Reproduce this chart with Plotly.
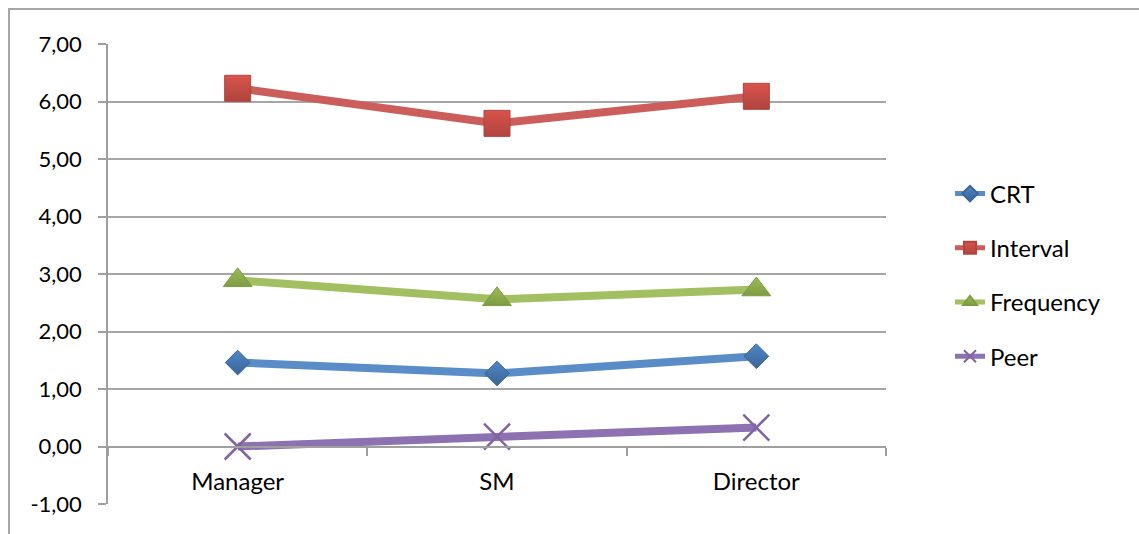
import plotly.graph_objects as go

# Survey scores by management level
categories = ["Manager", "SM", "Director"]
crt = [1.46, 1.27, 1.57]
interval = [6.23, 5.62, 6.09]
frequency = [2.89, 2.56, 2.73]
peer = [0.00, 0.17, 0.33]

y_ticks = [-1, 0, 1, 2, 3, 4, 5, 6, 7]
y_tick_text = [f"{v:.2f}".replace(".", ",") for v in y_ticks]

series = [
    ("CRT", crt, "#5A8DC8", "#4F86C6", "#3A6598", "diamond", 19),
    ("Interval", interval, "#CB5E5A", "#D9534C", "#B0443F", "square", 26),
    ("Frequency", frequency, "#A2C061", "#9BBB59", "#7E9C42", "triangle-up", 25),
    ("Peer", peer, "#8D72B1", "#8064A2", "#8064A2", "x-thin", 26),
]

fig = go.Figure()
for name, vals, line_col, mark_col, edge_col, sym, size in series:
    marker = dict(symbol=sym, size=size, color=mark_col,
                  line=dict(color=edge_col, width=1))
    if sym == "x-thin":
        marker["line"] = dict(color=mark_col, width=2.5)
    else:
        marker["gradient"] = dict(type="vertical", color=edge_col)
    fig.add_trace(go.Scatter(
        x=categories, y=vals, name=name, mode="lines+markers",
        line=dict(color=line_col, width=8),
        marker=marker, legendgroup=name,
    ))

L, R, T, B = 108, 886, 44, 504
W, H = 1139, 534
pw, ph = R - L, B - T

def px_x(x):
    return (x - L) / pw

def px_y(y):
    return (B - y) / ph

# outer chart frame
fig.add_shape(type="rect", xref="paper", yref="paper",
              x0=px_x(9), x1=px_x(1160), y0=px_y(9), y1=px_y(560),
              line=dict(color="#A6A6A6", width=2), layer="below")

family = "Lato, Carlito, Calibri, sans-serif"
ytick_font = dict(family=family, size=22, color="#000000")
xtick_font = dict(family=family, size=24, color="#000000")
legend_font = dict(family=family, size=24, color="#000000")

fig.update_layout(
    width=W, height=H,
    margin=dict(l=L, r=W - R, t=T, b=H - B),
    paper_bgcolor="white", plot_bgcolor="white",
    font=dict(family=family, size=22, color="#000000"),
    showlegend=True,
    legend=dict(x=px_x(950), y=px_y(275), xanchor="left", yanchor="middle",
                font=legend_font, tracegroupgap=20, itemsizing="constant",
                bgcolor="rgba(0,0,0,0)"),
    xaxis=dict(type="category", range=[-0.5, 2.5],
               anchor="free", position=px_y(447),
               showline=True, linecolor="#9F9F9F", linewidth=1.5,
               ticks="outside", ticklen=8, tickcolor="#9F9F9F", tickwidth=1.5,
               tickson="boundaries", showgrid=False, zeroline=False,
               ticklabelstandoff=13, tickfont=xtick_font),
    yaxis=dict(range=[-1, 7], tickvals=y_ticks, ticktext=y_tick_text,
               showline=True, linecolor="#9F9F9F", linewidth=1.5,
               ticks="outside", ticklen=8, tickcolor="#9F9F9F", tickwidth=1.5,
               showgrid=True, gridcolor="#A6A6A6", gridwidth=1.5,
               zeroline=False, ticklabelstandoff=12, tickfont=ytick_font),
)

fig.write_html("out.html")
